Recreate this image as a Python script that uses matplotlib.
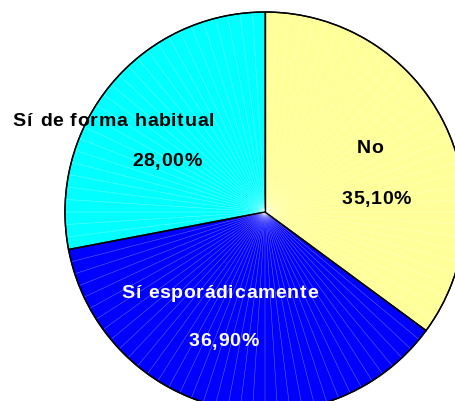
import numpy as np
import matplotlib
matplotlib.use("Agg")
import matplotlib.pyplot as plt
from matplotlib.font_manager import FontProperties, findfont
from matplotlib.ft2font import FT2Font

categories = ["No", "Sí esporádicamente", "Sí de forma habitual"]
values = [35.10, 36.90, 28.00]
colors = ["#FFFF99", "#0000FF", "#00FFFF"]
text_colors = ["black", "white", "black"]
pct_labels = ["35,10%", "36,90%", "28,00%"]

W, H = 455, 401
DPI = 100
fig = plt.figure(figsize=(W / DPI, H / DPI), dpi=DPI)
ax = fig.add_axes([0, 0, 1, 1])
cx, cy = 265, 401 - 212
R = 200

wedges, _ = ax.pie(values, colors=colors, startangle=90, counterclock=False,
                   radius=R, center=(0, 0), frame=True,
                   wedgeprops=dict(edgecolor="black", linewidth=1.0))
ax.set_xlim(-cx, W - cx)
ax.set_ylim(-cy, H - cy)
ax.set_aspect("equal")
ax.axis("off")

# faint radial rendering lines
for ang in np.arange(0, 360, 3.6):
    t = np.deg2rad(ang)
    ax.plot([0, R * np.cos(t)], [0, R * np.sin(t)], color="white",
            lw=0.35, alpha=0.45, zorder=1.5)
for w in wedges:
    w.set_zorder(1)
cum = np.cumsum([0] + values)
for c in cum[:-1]:
    t = np.deg2rad(90 - c / 100 * 360)
    ax.plot([0, R * np.cos(t)], [0, R * np.sin(t)], color="black", lw=1.0, zorder=3)
ax.add_patch(plt.Circle((0, 0), R, fill=False, ec="black", lw=1.0, zorder=3))

SIZE = 14
SPACING = 0.4  # px
prop = FontProperties(family="Liberation Sans", weight="bold", size=SIZE)
ft = FT2Font(findfont(prop))
ft.set_size(SIZE, DPI)


def advance(ch):
    g = ft.load_char(ord(ch))
    return float(np.ceil(g.linearHoriAdvance / 65536.0))


cap_h = ft.load_char(ord("H")).height / 64.0


def spaced_text(x, y, s, color):
    adv = [advance(ch) for ch in s]
    total = sum(adv) + SPACING * (len(s) - 1)
    px = x - total / 2
    base = y - cap_h / 2
    for ch, a in zip(s, adv):
        if ch != " ":
            ax.text(px, base, ch, ha="left", va="baseline", color=color,
                    fontproperties=prop, zorder=5)
        px += a + SPACING


name_pos = [(105, 65.5), (-45.5, -79), (-151.5, 93)]
pct_pos = [(112, 14.5), (-41, -128), (-98, 52)]
for i in range(3):
    spaced_text(name_pos[i][0], name_pos[i][1], categories[i], text_colors[i])
    spaced_text(pct_pos[i][0], pct_pos[i][1], pct_labels[i], text_colors[i])

fig.savefig("out.png", dpi=DPI, facecolor="white")
